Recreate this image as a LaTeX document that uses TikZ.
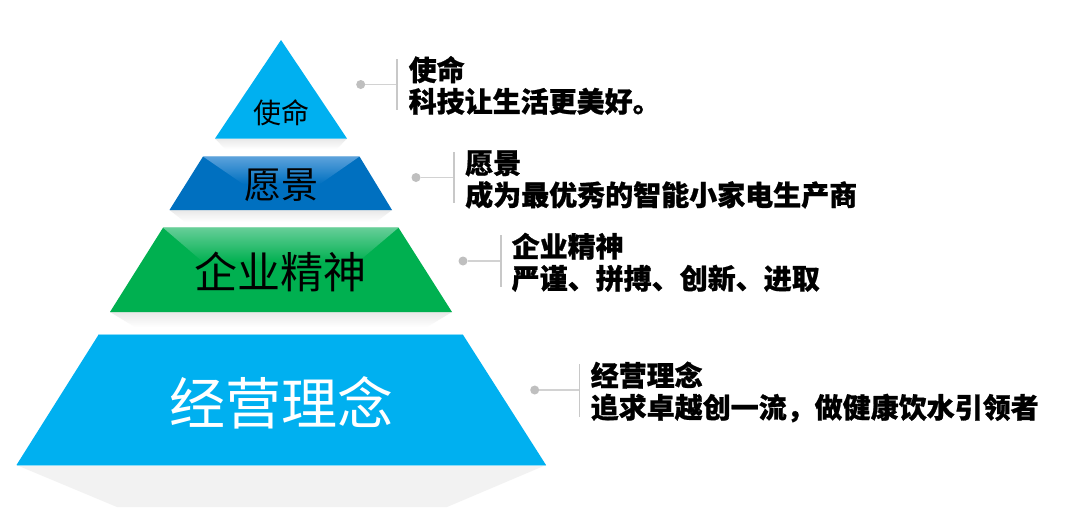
\documentclass[tikz,border=0pt]{standalone}
\usepackage{fontspec}
\newfontfamily\cjk{Noto Sans CJK SC}[BoldFeatures={FakeBold=0.8}]
\newfontfamily\song{Noto Sans CJK SC}
\definecolor{cyanA}{HTML}{00B0F0}
\definecolor{blueB}{HTML}{0070C0}
\definecolor{blueL}{HTML}{5CA2DC}
\definecolor{greenC}{HTML}{00B050}
\definecolor{greenL}{HTML}{66CE98}
\definecolor{shadowG}{HTML}{F2F2F2}
\definecolor{dotG}{HTML}{BFBFBF}
\definecolor{lineG}{HTML}{D2D2D2}
\definecolor{barG}{HTML}{C8C8C8}
\begin{document}
\begin{tikzpicture}[x=1pt,y=-1pt,
  desc/.style={anchor=base west,inner sep=0pt,font=\cjk\bfseries\fontsize{28}{32}\selectfont},
  dotnode/.style={circle,fill=dotG,minimum size=9pt,inner sep=0pt},
  conn/.style={draw=lineG,line width=1.5pt},
  barline/.style={draw=barG,line width=1.4pt},
  softshadow/.style={top color=black!9,bottom color=white},
  lvl/.style={anchor=base,inner sep=0pt}
]
\useasboundingbox (0,0) rectangle (1080,507);
\fill[white] (0,0) rectangle (1080,507);

% shadows
\shade[softshadow] (215,138.5) -- (347,138.5) -- (337,149) -- (225,149) -- cycle;
\shade[softshadow] (169.5,210) -- (392,210) -- (376,222) -- (185,222) -- cycle;
\shade[softshadow] (110,312) -- (452,312) -- (427,327) -- (135,327) -- cycle;
\fill[shadowG] (16.5,465) -- (546,465) -- (447,507) -- (117,507) -- cycle;

% level 1: triangle
\fill[cyanA] (281,40) -- (347,138.5) -- (215,138.5) -- cycle;

% level 2
\fill[blueB] (203,156.5) -- (359.5,156.5) -- (392,210) -- (169.5,210) -- cycle;
\shade[top color=blueL,bottom color=blueB] (203,156.5) -- (359.5,156.5) -- (320,184) -- (243,184) -- cycle;

% level 3
\fill[greenC] (163,227.7) -- (398.5,227.7) -- (452,312) -- (110,312) -- cycle;
\shade[top color=greenL,bottom color=greenC] (163,227.7) -- (398.5,227.7) -- (358,262) -- (203,262) -- cycle;

% level 4
\fill[cyanA] (99,334) -- (462.5,334) -- (546,465) -- (16.5,465) -- cycle;
\draw[cyanA!45!white,line width=0.8pt] (99,334) -- (462.5,334);
\draw[cyanA!45!white,line width=0.8pt] (16.5,465) -- (546,465);

% level labels
\node[lvl,font=\song\fontsize{28}{28}\selectfont] (L1) at (281.5,123.3) {使命};
\node[lvl,font=\song\fontsize{37}{37}\selectfont] (L2) at (281.3,198.8) {愿景};
\node[lvl,font=\song\fontsize{43}{43}\selectfont] (L3) at (280,288.7) {企业精神};
\node[lvl,font=\song\fontsize{56}{56}\selectfont,text=white] (L4) at (281.5,424.5) {经营理念};

% connectors
\coordinate (b1t) at (397,59);   \coordinate (b1b) at (397,110);   \coordinate (b1m) at (397,84.5);
\coordinate (b2t) at (454,152);  \coordinate (b2b) at (454,203);   \coordinate (b2m) at (454,177.5);
\coordinate (b3t) at (501,235);  \coordinate (b3b) at (501,287);   \coordinate (b3m) at (501,261);
\coordinate (b4t) at (579.7,364);\coordinate (b4b) at (579.7,416.7);\coordinate (b4m) at (579.7,390);

\node[dotnode] (d1) at (360.7,84.5) {};
\node[dotnode] (d2) at (416,177.5) {};
\node[dotnode] (d3) at (463,261) {};
\node[dotnode] (d4) at (534.7,390) {};

\draw[conn] (d1) -- (b1m);
\draw[conn] (d2) -- (b2m);
\draw[conn] (d3) -- (b3m);
\draw[conn] (d4) -- (b4m);
\draw[barline] (b1t) -- (b1b);
\draw[barline] (b2t) -- (b2b);
\draw[barline] (b3t) -- (b3b);
\draw[barline] (b4t) -- (b4b);

% descriptions
\node[desc] (t1) at (408.5,80.5) {使命};
\node[desc] (s1) at (408.5,112) {科技让生活更美好。};
\node[desc] (t2) at (465,173.5) {愿景};
\node[desc] (s2) at (465,205.5) {成为最优秀的智能小家电生产商};
\node[desc] (t3) at (511.5,257) {企业精神};
\node[desc] (s3) at (511.5,289) {严谨、拼搏、创新、进取};
\node[desc] (t4) at (590.5,386) {经营理念};
\node[desc] (s4) at (590.5,418) {追求卓越创一流，做健康饮水引领者};
\end{tikzpicture}
\end{document}
